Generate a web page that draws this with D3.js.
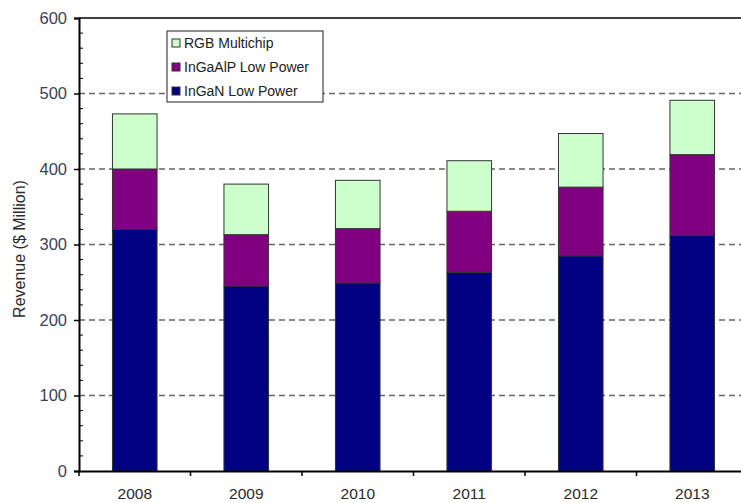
<!DOCTYPE html>
<html>
<head>
<meta charset="utf-8">
<script src="https://cdn.jsdelivr.net/npm/d3@7"></script>
<style>
  body { margin: 0; background: #fff; }
  svg { font-family: "Liberation Sans", Arial, sans-serif; }
</style>
</head>
<body>
<svg width="741" height="503"></svg>
<script>
const years = ['2008', '2009', '2010', '2011', '2012', '2013'];
const inganLow = [320, 245, 249, 263, 285, 312];
const ingaalpLow = [80, 68, 72, 81, 91, 107];
const rgbMultichip = [73, 67, 64, 67, 71, 72];
const seriesNames = ['InGaN Low Power', 'InGaAlP Low Power', 'RGB Multichip'];
const seriesColors = ['#000080', '#800080', '#ccffcc'];
const yTicks = [0, 100, 200, 300, 400, 500, 600];

const svg = d3.select('svg');
const margin = { left: 79, top: 18, right: -7, bottom: 32 };
const width = +svg.attr('width');
const height = +svg.attr('height');

const rows = years.map((y, i) => ({
  year: y,
  'InGaN Low Power': inganLow[i],
  'InGaAlP Low Power': ingaalpLow[i],
  'RGB Multichip': rgbMultichip[i]
}));
const stacked = d3.stack().keys(seriesNames)(rows);

const xScale = d3.scaleBand()
  .domain(years)
  .range([margin.left, width - margin.right])
  .paddingInner(0.6)
  .paddingOuter(0.3);
const yScale = d3.scaleLinear()
  .domain([0, 600])
  .range([height - margin.bottom, margin.top]);

// dashed grid
svg.append('g')
  .selectAll('line')
  .data(yTicks.filter(d => d > 0 && d < 600))
  .join('line')
    .attr('x1', margin.left)
    .attr('x2', width - margin.right)
    .attr('y1', d => yScale(d))
    .attr('y2', d => yScale(d))
    .attr('stroke', '#666')
    .attr('stroke-width', 1.5)
    .attr('stroke-dasharray', '6,4');

// top border
svg.append('line')
  .attr('x1', margin.left).attr('x2', width)
  .attr('y1', yScale(600)).attr('y2', yScale(600))
  .attr('stroke', '#000').attr('stroke-width', 1.5);

// bars
const colour = d3.scaleOrdinal().domain(seriesNames).range(seriesColors);
svg.append('g')
  .selectAll('g')
  .data(stacked)
  .join('g')
    .attr('fill', d => colour(d.key))
  .selectAll('rect')
  .data(d => d)
  .join('rect')
    .attr('x', d => xScale(d.data.year))
    .attr('width', xScale.bandwidth())
    .attr('y', d => yScale(d[1]))
    .attr('height', d => yScale(d[0]) - yScale(d[1]))
    .attr('stroke', '#333')
    .attr('stroke-width', 1);

// y axis
const yAxis = d3.axisLeft(yScale).tickValues(yTicks).tickSize(5).tickPadding(7);
const yG = svg.append('g')
  .attr('transform', `translate(${margin.left},0)`)
  .call(yAxis);
yG.select('.domain').attr('stroke', '#000').attr('stroke-width', 2);
yG.selectAll('.tick line').attr('stroke', '#000').attr('stroke-width', 1.5);
yG.selectAll('.tick text')
  .attr('font-size', 16.5)
  .attr('fill', '#3a4258');

// minor ticks
const minor = d3.range(20, 600, 20).filter(d => d % 100 !== 0);
svg.append('g')
  .selectAll('line')
  .data(minor)
  .join('line')
    .attr('x1', margin.left)
    .attr('x2', margin.left + 4)
    .attr('y1', d => yScale(d))
    .attr('y2', d => yScale(d))
    .attr('stroke', '#000');

// x axis
const xG = svg.append('g')
  .attr('transform', `translate(0,${height - margin.bottom})`)
  .call(d3.axisBottom(xScale).tickSize(0).tickPadding(17));
xG.select('.domain').attr('stroke', '#000').attr('stroke-width', 2);
xG.selectAll('.tick text')
  .attr('font-size', 15.5)
  .attr('fill', '#2a2a2a');
const step = xScale.step();
svg.append('g')
  .selectAll('line')
  .data(years)
  .join('line')
    .attr('x1', d => xScale(d) - step * 0.3)
    .attr('x2', d => xScale(d) - step * 0.3)
    .attr('y1', height - margin.bottom)
    .attr('y2', height - margin.bottom + 5)
    .attr('stroke', '#000')
    .attr('stroke-width', 1.5);

// y label
svg.append('text')
  .attr('transform', 'translate(25, 249) rotate(-90)')
  .attr('text-anchor', 'middle')
  .attr('font-size', 16)
  .attr('fill', '#2a2a2a')
  .text('Revenue ($ Million)');

// legend
const legend = svg.append('g').attr('transform', 'translate(167,31)');
legend.append('rect')
  .attr('width', 156).attr('height', 71)
  .attr('fill', '#fff').attr('stroke', '#444').attr('stroke-width', 1.2);
const legendItems = seriesNames.slice().reverse();
legend.selectAll('g.item')
  .data(legendItems)
  .join('g')
    .attr('class', 'item')
    .attr('transform', (d, i) => `translate(5, ${12 + i * 24})`)
    .call(g => {
      g.append('rect')
        .attr('x', 0).attr('y', -4)
        .attr('width', 8).attr('height', 8)
        .attr('fill', d => colour(d))
        .attr('stroke', '#333');
      g.append('text')
        .attr('x', 12).attr('y', 5)
        .attr('font-size', 14)
        .attr('fill', '#222')
        .text(d => d);
    });
</script>
</body>
</html>
